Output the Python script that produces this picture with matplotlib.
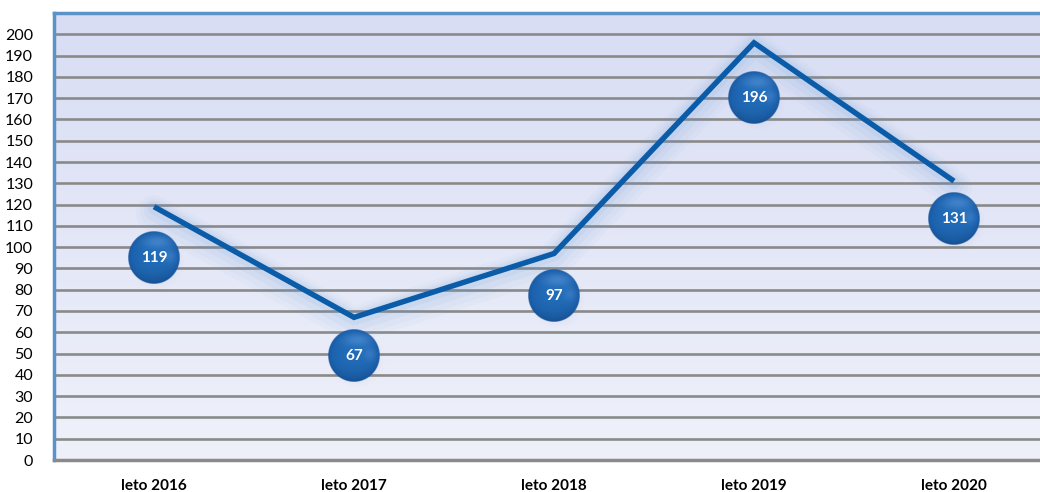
import numpy as np
import matplotlib
matplotlib.use("Agg")
import matplotlib.pyplot as plt
import matplotlib.transforms as mtransforms

# Data
categories = ["leto 2016", "leto 2017", "leto 2018", "leto 2019", "leto 2020"]
values = [119, 67, 97, 196, 131]
# vertical placement of the value bubbles below each point (in data units)
bubble_drop = [24, 18, 20, 26, 18]
y_ticks = list(range(0, 201, 10))

plt.rcParams['font.family'] = ['Lato', 'DejaVu Sans']

W, H = 1040, 492
fig = plt.figure(figsize=(W / 100, H / 100), dpi=100)
left_px, right_px, top_px, bottom_px = 54, 1054, 13, 460
ax = fig.add_axes([left_px / W, 1 - bottom_px / H,
                   (right_px - left_px) / W, (bottom_px - top_px) / H])

x = np.arange(len(categories))
ax.set_xlim(-0.5, len(categories) - 0.5)
ax.set_ylim(0, 210)

# plot-area gradient fill
grad = np.linspace(0, 1, 256).reshape(-1, 1)
top_c = np.array([0.847, 0.867, 0.957])
bot_c = np.array([0.937, 0.945, 0.980])
img = top_c[None, None, :] * (1 - grad[..., None]) + bot_c[None, None, :] * grad[..., None]
ax.imshow(img, extent=[0, 1, 0, 1], transform=ax.transAxes, aspect='auto',
          zorder=0, origin='upper')

# gridlines
for t in y_ticks:
    ax.axhline(t, color='#8a8a8a', lw=1.9, zorder=1)

ax.spines['right'].set_visible(False)
ax.spines['left'].set_color('#5b93c9')
ax.spines['left'].set_linewidth(2.5)
ax.spines['top'].set_color('#5b93c9')
ax.spines['top'].set_linewidth(2.5)
ax.spines['bottom'].set_color('#8a8a8a')
ax.spines['bottom'].set_linewidth(2.5)

ax.set_yticks(y_ticks)
ax.set_yticklabels([str(t) for t in y_ticks], fontsize=11.5, color='#000000')
ax.set_xticks(x)
ax.set_xticklabels(categories, fontsize=11, fontweight='bold')
ax.tick_params(axis='y', length=0, pad=15)
ax.tick_params(axis='x', length=0, pad=14)

# soft glow behind the line
for w, a, dy in [(36, 0.035, -7), (28, 0.045, -6), (20, 0.06, -4), (12, 0.08, -2)]:
    tr = mtransforms.offset_copy(ax.transData, fig=fig, x=0, y=dy, units='dots')
    ax.plot(x, values, color='#5f97d6', lw=w * 0.72, alpha=a, transform=tr,
            solid_capstyle='round', solid_joinstyle='round', zorder=2)

ax.plot(x, values, color='#0b5ca8', lw=3.9, zorder=3,
        solid_capstyle='butt', solid_joinstyle='miter')

# spherical bubbles
fig.canvas.draw()
px_per_x = ax.transData.transform((1, 0))[0] - ax.transData.transform((0, 0))[0]
px_per_y = ax.transData.transform((0, 1))[1] - ax.transData.transform((0, 0))[1]
r_px = 26
n = 200
u, v = np.meshgrid(np.linspace(-1, 1, n), np.linspace(1, -1, n))
r = np.sqrt(u ** 2 + v ** 2)
dark = np.array([0.07, 0.31, 0.60])
mid = np.array([0.13, 0.42, 0.72])
light = np.array([0.36, 0.60, 0.86])
shade = np.clip(1 - r ** 2, 0, 1) ** 0.35
base = dark[None, None, :] + (mid - dark)[None, None, :] * shade[..., None]
# slightly darker toward the lower part of the sphere
base = base * (1 - 0.12 * np.clip(-v, 0, 1) ** 2)[..., None]
hl = np.exp(-((u - 0.15) ** 2 / 0.30 + (v - 0.60) ** 2 / 0.06)) * 0.55
rim = np.exp(-((u - 0.62) ** 2 + (v - 0.05) ** 2) / 0.06) * 0.35
col = base + (light - base) * np.clip(hl + rim, 0, 1)[..., None]
alpha = np.clip((1 - r) * n / 2.5, 0, 1)
sphere = np.dstack([np.clip(col, 0, 1), alpha])

# drop shadow under the sphere
sh_alpha = np.clip(1 - r, 0, 1) ** 1.5 * 0.3
shadow = np.dstack([np.full_like(u, 0.35), np.full_like(u, 0.45), np.full_like(u, 0.6), sh_alpha])

for xi, val, drop in zip(x, values, bubble_drop):
    cy = val - drop
    dx = r_px / px_per_x
    dyv = r_px / px_per_y
    sx, sy = 3 / px_per_x, 4 / px_per_y
    ax.imshow(shadow, extent=[xi - dx * 1.15 + sx, xi + dx * 1.15 + sx,
                              cy - dyv * 1.15 - sy, cy + dyv * 1.15 - sy],
              aspect='auto', zorder=4, interpolation='bilinear')
    ax.imshow(sphere, extent=[xi - dx, xi + dx, cy - dyv, cy + dyv],
              aspect='auto', zorder=5, interpolation='bilinear')
    ax.text(xi, cy, str(val), color='white', fontsize=11, fontweight='bold',
            ha='center', va='center', zorder=6)

ax.set_xlim(-0.5, len(categories) - 0.5)
ax.set_ylim(0, 210)

fig.savefig("out.png", dpi=100)
